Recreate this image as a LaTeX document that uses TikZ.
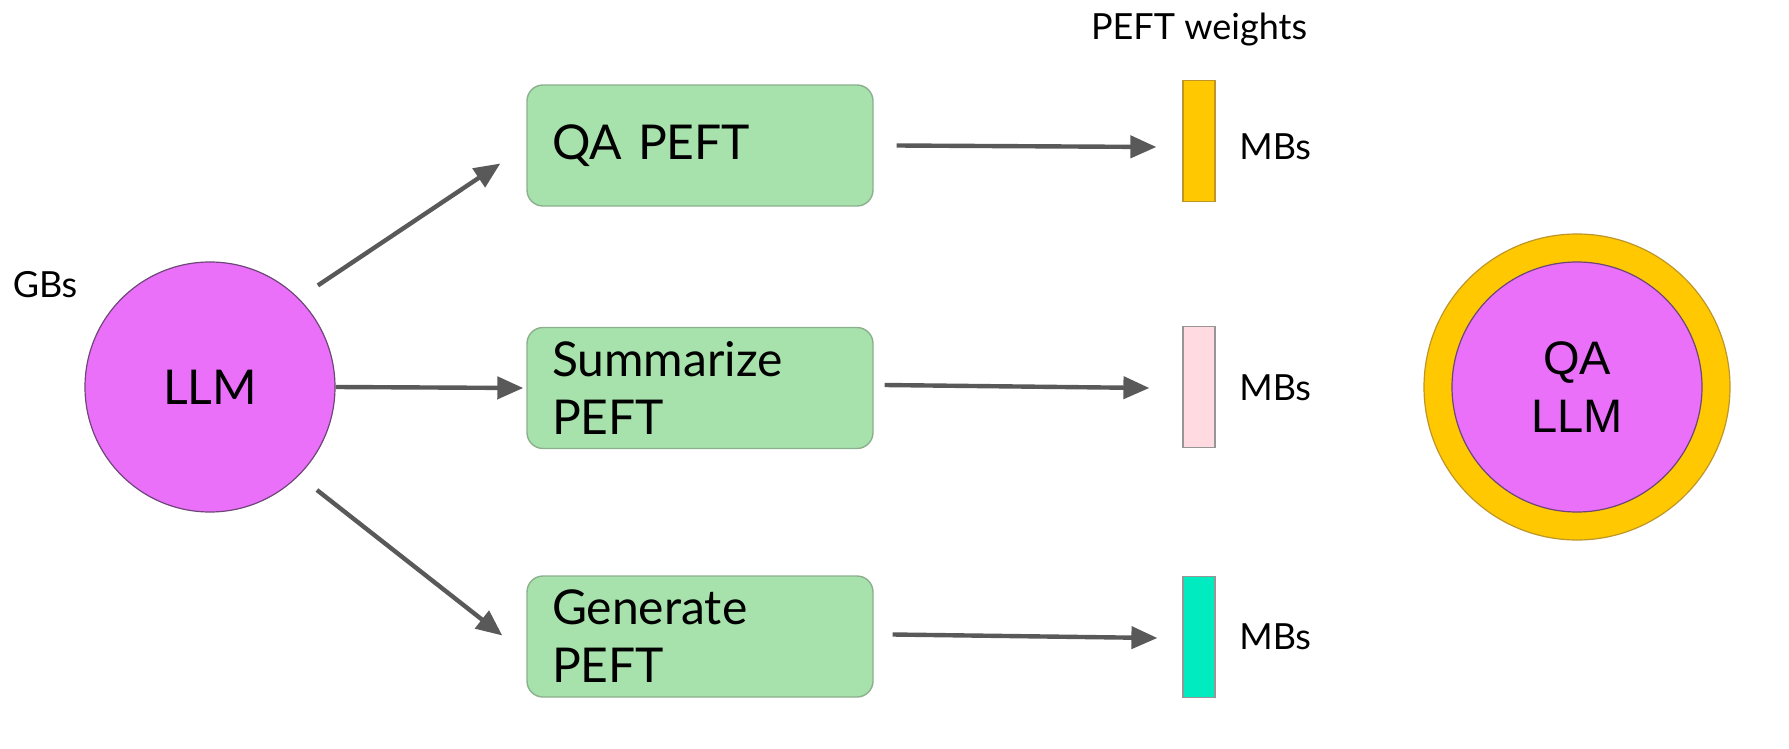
\documentclass[tikz,border=0pt]{standalone}
\usepackage{fontspec}
\setmainfont{Lato}
\newfontfamily\arialfont{Liberation Sans}
\usetikzlibrary{arrows.meta,calc}
\definecolor{llmpink}{RGB}{234,112,250}
\definecolor{llmedge}{RGB}{110,70,120}
\definecolor{boxgreen}{RGB}{167,225,172}
\definecolor{boxedge}{RGB}{140,175,142}
\definecolor{qayellow}{RGB}{255,200,0}
\definecolor{yedge}{RGB}{190,150,40}
\definecolor{sumpink}{RGB}{255,218,225}
\definecolor{genteal}{RGB}{0,236,192}
\definecolor{baredge}{RGB}{150,150,150}
\definecolor{arrgray}{RGB}{89,89,89}
\tikzset{
  bigtext/.style={font=\fontsize{24}{29}\selectfont},
  smalltext/.style={font=\fontsize{18}{22}\selectfont},
  pefbox/.style={draw=boxedge, line width=0.7pt, fill=boxgreen, rounded corners=8pt,
    minimum width=173pt, minimum height=60.5pt, text width=148pt, align=left,
    inner xsep=12.5pt, inner ysep=0pt, bigtext},
  wbar/.style={draw=baredge, line width=0.6pt, minimum width=16pt, minimum height=60.5pt, inner sep=0pt},
  arr/.style={draw=arrgray, line width=2.2pt, -{Triangle[length=13pt,width=11pt]}},
}
\begin{document}
\begin{tikzpicture}[x=0.5pt,y=-0.5pt]
\useasboundingbox (0,0) rectangle (1789,749);
% LLM
\node[circle, draw=llmedge, line width=0.6pt, fill=llmpink, minimum size=125pt, inner sep=0pt, bigtext] (llm) at (210,387) {LLM};
\node[smalltext, anchor=base] (gbs) at (45,297) {GBs};
% PEFT boxes
\node[pefbox] (qa) at (700,145.5) {QA PEFT};
\node[pefbox] (sum) at (700,388) {Summarize\\PEFT};
\node[pefbox] (gen) at (700,636.5) {Generate\\PEFT};
% weight bars
\node[wbar, fill=qayellow, draw=yedge] (wqa) at (1199,141) {};
\node[wbar, fill=sumpink] (wsum) at (1199,387) {};
\node[wbar, fill=genteal] (wgen) at (1199,637) {};
\node[smalltext, anchor=base] (pw) at (1199,40) {PEFT weights};
\node[smalltext, anchor=west, inner sep=0pt] (mqa) at (1239,147) {MBs};
\node[smalltext, anchor=west, inner sep=0pt] (msum) at (1239,388) {MBs};
\node[smalltext, anchor=west, inner sep=0pt] (mgen) at (1239,637) {MBs};
% QA LLM
\node[circle, draw=yedge, line width=0.6pt, fill=qayellow, minimum size=153pt, inner sep=0pt] (outer) at (1577,387) {};
\node[circle, draw=llmedge, line width=0.6pt, fill=llmpink, minimum size=125pt, inner sep=0pt, align=center,
  font=\arialfont\fontsize{23.5}{29}\selectfont] (qallm) at (1577,387) {QA\\LLM};
% arrows from LLM
\draw[arr, shorten <=11.5pt] (llm.45) -- ($(qa.west)+(-26,18)$);
\draw[arr] (llm.east) -- ($(sum.west)+(-3,0)$);
\draw[arr, shorten <=11.5pt] (llm.-45) -- ($(gen.west)+(-24,-1)$);
% arrows to bars
\draw[arr] ($(qa.east)+(23,0)$) -- ($(wqa.west)+(-26,6)$);
\draw[arr] ($(sum.east)+(11,-3)$) -- ($(wsum.west)+(-33,1)$);
\draw[arr] ($(gen.east)+(19,-2)$) -- ($(wgen.west)+(-25,1)$);
\end{tikzpicture}
\end{document}
